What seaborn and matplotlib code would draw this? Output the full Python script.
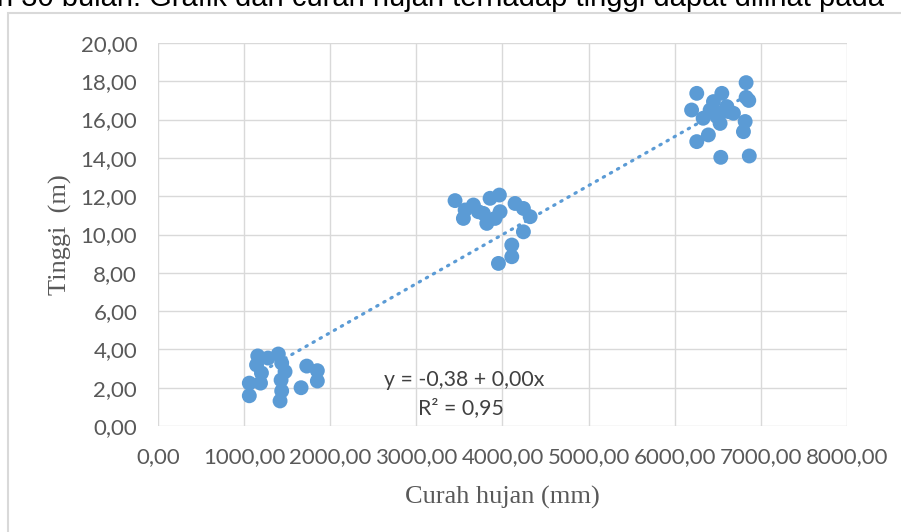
import numpy as np
import pandas as pd
import matplotlib
matplotlib.use("Agg")
import matplotlib.pyplot as plt
import seaborn as sns
from matplotlib.patches import Rectangle
from matplotlib.ticker import FuncFormatter

# curah hujan (mm) dan tinggi (m)
curah_hujan = [1060, 1060, 1158, 1144, 1190, 1201, 1277, 1397, 1436, 1475, 1436, 1417, 1429,
               1727, 1850, 1850, 1661,
               3449, 3662, 3546, 3856, 3964, 3778, 3818, 3914, 3972, 4146, 4243, 4321,
               4243, 4108, 4108, 3953, 3720, 3566,
               6829, 6829, 6256, 6547, 6450, 6196, 6330, 6527, 6624, 6682, 6818, 6798,
               6527, 6391, 6256, 6535, 6866, 6411, 6605, 6489, 6860]
tinggi = [1.58, 2.24, 3.66, 3.19, 2.24, 2.77, 3.55, 3.76, 3.29, 2.84, 1.83, 1.31, 2.40,
          3.13, 2.89, 2.35, 2.00,
          11.77, 11.54, 10.84, 11.89, 12.06, 11.10, 10.58, 10.84, 11.19, 11.62, 11.36, 10.93,
          10.14, 9.45, 8.84, 8.49, 11.19, 11.28,
          17.93, 17.16, 17.37, 17.37, 16.94, 16.50, 16.07, 16.33, 16.42, 16.33, 15.90, 15.37,
          15.80, 15.20, 14.85, 14.03, 14.10, 16.50, 16.68, 16.16, 17.00]

df = pd.DataFrame({"curah_hujan": curah_hujan, "tinggi": tinggi})

warna = "#5B9BD5"
sns.set_style("white")
plt.rcParams['font.family'] = ['Lato', 'DejaVu Sans']

fig = plt.figure(figsize=(9.01, 5.32), dpi=100)
ax = fig.add_axes([0.1754, 0.1992, 0.7646, 0.72])

sns.regplot(data=df, x="curah_hujan", y="tinggi", ax=ax, ci=None,
            scatter_kws=dict(s=115, color=warna, alpha=1, edgecolor="none", zorder=3),
            line_kws=dict(color=warna, lw=2.3, ls=(0, (0.45, 2.1)), dash_capstyle="round", zorder=4))

ax.set_xlim(0, 8000)
ax.set_ylim(0, 20)
ax.set_xticks(np.arange(0, 8001, 1000))
ax.set_yticks(np.arange(0, 20.1, 2))
fmt = FuncFormatter(lambda v, p: f"{v:.2f}".replace(".", ","))
ax.xaxis.set_major_formatter(fmt)
ax.yaxis.set_major_formatter(fmt)
ax.tick_params(axis="both", length=0, labelsize=16, labelcolor="#595959", pad=15)
ax.grid(True, color="#D9D9D9", lw=1)
ax.set_axisbelow(True)
for s in ax.spines.values():
    s.set_visible(False)

ax.set_xlabel("Curah hujan (mm)", family="Liberation Serif", fontsize=19, color="#595959")
ax.set_ylabel("Tinggi  (m)", family="Liberation Serif", fontsize=19, color="#595959")
ax.xaxis.label.set_va("center")
ax.xaxis.set_label_coords(0.5, (426 - 497) / 383)
ax.yaxis.label.set_rotation_mode("default")
ax.yaxis.label.set_va("center")
ax.yaxis.label.set_ha("center")
ax.yaxis.set_label_coords((60 - 158) / 689, 0.5)

ax.text(3553, 2.40, "y = -0,38 + 0,00x", fontsize=15.3, color="#404040", ha="center", va="center")
ax.text(3520, 0.94, "R² = 0,95", fontsize=15.3, color="#404040", ha="center", va="center")

fig.patches.append(Rectangle((8 / 901, -0.05), 1.2, 1 - 13 / 532 + 0.05, transform=fig.transFigure,
                             fill=False, edgecolor="#D9D9D9", lw=1.5))
fig.text(-0.003, 1 - 6 / 532, "n 30 bulan. Grafik dari curah hujan terhadap tinggi dapat dilihat pada",
         family="Liberation Sans", fontsize=21, color="black", va="baseline", ha="left")

fig.savefig("out.png", dpi=100)
